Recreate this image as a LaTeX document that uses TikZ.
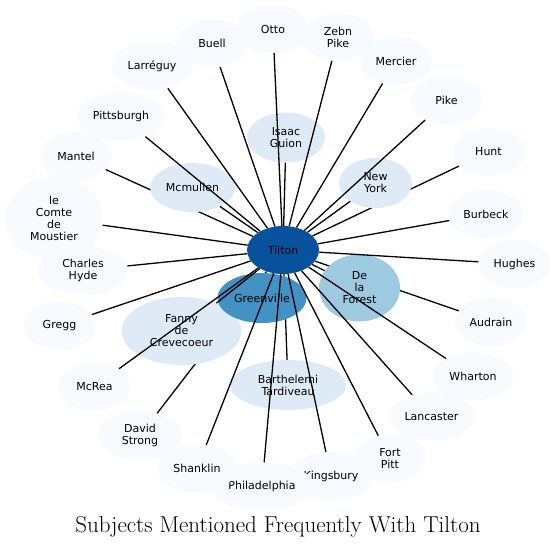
\documentclass[tikz,border=0pt]{standalone}
\usepackage{fontspec}
\newfontfamily\subjfont{DejaVu Sans}
\usepackage{tikz}
\usetikzlibrary{shapes.geometric}
\usepackage{xcolor}
\definecolor{blue0}{HTML}{F7FBFF}
\definecolor{blue1}{HTML}{DEEBF7}
\definecolor{blue2}{HTML}{9ECAE1}
\definecolor{blue3}{HTML}{4292C6}
\definecolor{blue4}{HTML}{08519C}
\pgfdeclarelayer{back}
\pgfsetlayers{back,main}
\begin{document}
\begin{tikzpicture}[x=1pt,y=-1pt,tie/.style={draw=black,line width=1.3pt},every node/.style={ellipse,fill=blue0,inner sep=0pt,align=center,minimum width=72pt,minimum height=48pt,font=\subjfont\fontsize{11}{12}\selectfont}]
\useasboundingbox (0,0) rectangle (556,547);
% outer ring
\node(ot) at (273,29){Otto};
\node(bu) at (212,43.5){Buell};
\node(la) at (152,66)[minimum width=81pt]{Larréguy};
\node(pi) at (121,116.5)[minimum width=88pt]{Pittsburgh};
\node(ma) at (76,156){Mantel};
\node(zp) at (338,37){Zebn\\Pike};
\node(me) at (396,61){Mercier};
\node(pk) at (446.5,100.5){Pike};
\node(hu) at (488.5,152){Hunt};
\node(bb) at (486,214)[minimum width=76pt]{Burbeck};
\node(hg) at (514.5,264){Hughes};
\node(au) at (491,322){Audrain};
\node(wh) at (473,376.5)[minimum width=80pt]{Wharton};
\node(lc) at (431.5,416.5)[minimum width=87pt]{Lancaster};
\node(fp) at (390,458.5){Fort\\Pitt};
\node(kb) at (331,476)[minimum width=84pt]{Kingsbury};
\node(ph) at (262,486.5)[minimum width=104pt]{Philadelphia};
\node(sh) at (197,468.5)[minimum width=79pt]{Shanklin};
\node(ds) at (140,435.5)[minimum width=84pt]{David\\Strong};
\node(mr) at (94.5,386.5){McRea};
\node(gg) at (59.5,325.5){Gregg};
\node(ch) at (83,270.5)[minimum width=90pt]{Charles\\Hyde};
\node(cm) at (54,218.5)[minimum width=98pt,minimum height=83pt]{le\\Comte\\de\\Moustier};
% inner ring
\node(ig) at (286,137.5)[fill=blue1,minimum width=78pt,minimum height=50pt]{Isaac\\Guion};
\node(ny) at (375.5,183)[fill=blue1,minimum width=73pt,minimum height=50pt]{New\\York};
\node(mc) at (192.5,187.5)[fill=blue1,minimum width=85pt,minimum height=49pt]{Mcmullen};
\node(fa) at (181.5,331)[fill=blue1,minimum width=120pt,minimum height=68pt]{Fanny\\de\\Crevecoeur};
\node(bt) at (288,385)[fill=blue1,minimum width=116pt,minimum height=50pt]{Barthelemi\\Tardiveau};
\node(gr) at (262,298)[fill=blue3,minimum width=89pt,minimum height=50pt]{Greenville};
\node(df) at (359.5,288)[fill=blue2,minimum width=81pt,minimum height=67pt]{De\\la\\Forest};
\node(ti) at (283,250)[fill=blue4]{Tilton};
\node(title) at (278,532)[rectangle,fill=none,anchor=base,minimum width=0pt,minimum height=0pt,font=\fontsize{23}{27}\selectfont]{Subjects Mentioned Frequently With Tilton};
% edges hidden under the inner ring
\begin{pgfonlayer}{back}
\draw[tie](ti)--(ma);\draw[tie](ti)--(hu);\draw[tie](ti)--(au);\draw[tie](ti)--(ds);\draw[tie](ti)--(bt);\draw[tie](ti)--(gr);\draw[tie](ti)--(df);
\end{pgfonlayer}
\draw[tie](ti)--(ot);\draw[tie](ti)--(bu);\draw[tie](ti)--(la);\draw[tie](ti)--(pi);\draw[tie](ti)--(zp);\draw[tie](ti)--(me);\draw[tie](ti)--(pk);
\draw[tie](ti)--(bb);\draw[tie](ti)--(hg);\draw[tie](ti)--(wh);\draw[tie](ti)--(lc);\draw[tie](ti)--(fp);\draw[tie](ti)--(kb);\draw[tie](ti)--(ph);
\draw[tie](ti)--(sh);\draw[tie](ti)--(mr);\draw[tie](ti)--(gg);\draw[tie](ti)--(ch);\draw[tie](ti)--(cm);
\draw[tie](ti)--(ig);\draw[tie](ti)--(ny);\draw[tie](ti)--(mc);\draw[tie](ti)--(fa);
\end{tikzpicture}
\end{document}
